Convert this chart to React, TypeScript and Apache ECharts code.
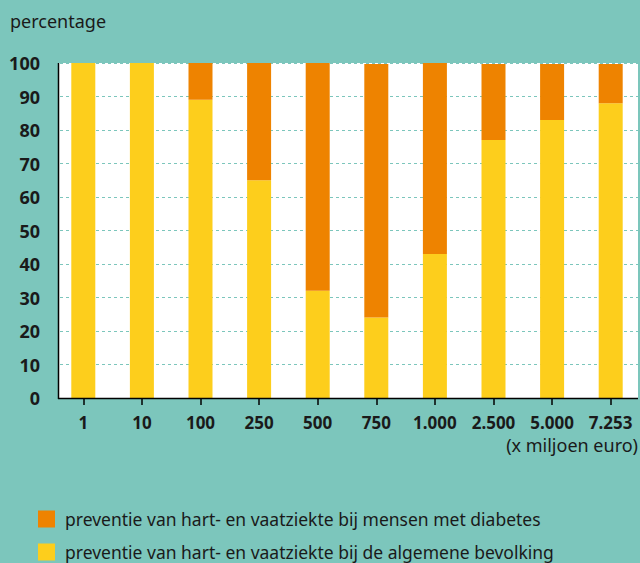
import React, { useEffect, useRef } from "react";
import * as echarts from "echarts";

const categories = ["1", "10", "100", "250", "500", "750", "1.000", "2.500", "5.000", "7.253"];
const algemeen = [100, 100, 89, 65, 32, 24, 43, 77, 83, 88];
const diabetes = [0, 0, 11, 35, 68, 75.7, 57, 22.7, 16.7, 11.7];
const yTicks = [0, 10, 20, 30, 40, 50, 60, 70, 80, 90, 100];
const nameDiabetes = "preventie van hart- en vaatziekte bij mensen met diabetes";
const nameAlgemeen = "preventie van hart- en vaatziekte bij de algemene bevolking";

const FONT = "Noto Sans";
const TEAL = "#7cc6bc";
const YELLOW = "#fdce1c";
const ORANGE = "#ee8300";
const TEXT = "#1a1a1a";

export default function App() {
  const ref = useRef<HTMLDivElement>(null);
  useEffect(() => {
    if (!ref.current) return;
    const chart = echarts.init(ref.current, null, { renderer: "svg" });
    chart.setOption({
      animation: false,
      backgroundColor: TEAL,
      textStyle: { fontFamily: FONT },
      grid: { left: 54, right: 0, top: 63, bottom: 165, containLabel: false },
      legend: {
        orient: "vertical",
        left: 38,
        top: 510,
        height: 53,
        padding: 0,
        itemWidth: 17,
        itemHeight: 17,
        itemGap: 15,
        icon: "rect",
        selectedMode: false,
        data: [nameDiabetes, nameAlgemeen],
        textStyle: { fontFamily: FONT, fontSize: 17.5, color: TEXT, padding: [0, 0, 0, 5] },
      },
      xAxis: {
        type: "category",
        data: categories,
        axisLine: { show: false },
        axisTick: { show: true, alignWithLabel: true, length: 7, lineStyle: { color: "#000", width: 1.5 } },
        axisLabel: {
          interval: 0,
          hideOverlap: false,
          fontFamily: FONT,
          fontSize: 17,
          fontWeight: "bold",
          color: TEXT,
          margin: 16,
        },
      },
      yAxis: {
        type: "value",
        min: 0,
        max: 100,
        interval: 10,
        axisLine: { show: false },
        axisTick: { show: false },
        axisLabel: {
          fontFamily: FONT,
          fontSize: 18,
          fontWeight: "bold",
          color: TEXT,
          margin: 14,
          customValues: yTicks,
        },
        splitLine: { show: true, lineStyle: { color: TEAL, type: [3, 3], width: 1.2 } },
      },
      graphic: [
        { type: "rect", z: -10, shape: { x: 58, y: 63, width: 580, height: 335 }, style: { fill: "#fff" } },
        { type: "line", z: 50, shape: { x1: 58.5, y1: 63, x2: 58.5, y2: 399 }, style: { stroke: "#000", lineWidth: 1.5 } },
        { type: "line", z: 50, shape: { x1: 58, y1: 398.5, x2: 638, y2: 398.5 }, style: { stroke: "#000", lineWidth: 1.5 } },
        { type: "text", left: 10, top: 12, style: { text: "percentage", fontFamily: FONT, fontSize: 18, fill: TEXT } },
        { type: "text", right: 2, top: 436, style: { text: "(x miljoen euro)", fontFamily: FONT, fontSize: 18, fill: TEXT } },
      ],
      series: [
        {
          name: nameAlgemeen,
          type: "bar",
          stack: "total",
          data: algemeen,
          barWidth: 24,
          itemStyle: { color: YELLOW },
        },
        {
          name: nameDiabetes,
          type: "bar",
          stack: "total",
          data: diabetes,
          barWidth: 24,
          itemStyle: { color: ORANGE },
        },
      ],
    });
    return () => chart.dispose();
  }, []);
  return <div ref={ref} style={{ position: "fixed", left: 0, top: 0, width: 640, height: 563 }} />;
}
